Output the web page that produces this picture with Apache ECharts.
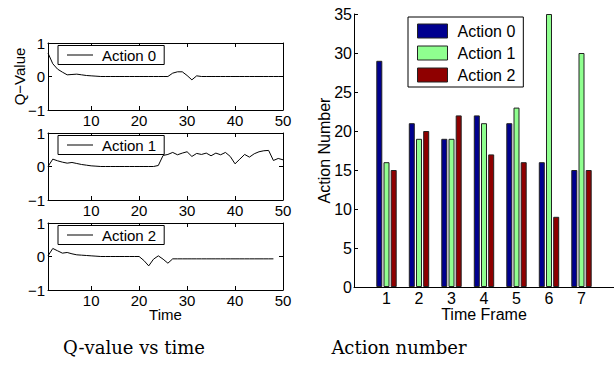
<!DOCTYPE html>
<html>
<head>
<meta charset="utf-8">
<script src="https://cdn.jsdelivr.net/npm/echarts@6.0.0/dist/echarts.min.js"></script>
<style>
  html, body { margin: 0; padding: 0; background: #fff; }
  #main { width: 614px; height: 367px; }
</style>
</head>
<body>
<div id="main"></div>
<script>
// Q-value traces, one value per time step (starting at t = 1)
var qAction0 = [0.70, 0.38, 0.22, 0.13, 0.05, 0.06, 0.07, 0.05, 0.03, 0.02, 0.01,
  0, 0, 0, 0, 0, 0, 0, 0, 0, 0, 0, 0, 0, 0, 0,
  0.10, 0.14, 0.14, 0.03, -0.10, 0.02,
  0, 0, 0, 0, 0, 0, 0, 0, 0, 0, 0, 0, 0, 0, 0, 0, 0, 0];
var qAction1 = [0.0, 0.22, 0.17, 0.13, 0.10, 0.12, 0.09, 0.06, 0.04, 0.02, 0.01,
  0, 0, 0, 0, 0, 0, 0, 0, 0, 0, 0, 0,
  0.03, 0.33, 0.36, 0.42, 0.35, 0.40, 0.44, 0.30, 0.39, 0.36, 0.40, 0.32, 0.40,
  0.35, 0.42, 0.30, 0.08, 0.22, 0.36, 0.28, 0.38, 0.44, 0.47, 0.48, 0.18, 0.24, 0.20];
var qAction2 = [0.02, 0.24, 0.17, 0.10, 0.12, 0.08, 0.05, 0.04, 0.03, 0.02, 0.01,
  0, 0, 0, 0, 0, 0, 0, 0, 0,
  -0.12, -0.28, -0.08, 0.02, -0.08, -0.20, -0.07,
  -0.07, -0.07, -0.07, -0.07, -0.07, -0.07, -0.07, -0.07, -0.07, -0.07, -0.07,
  -0.07, -0.07, -0.07, -0.07, -0.07, -0.07, -0.07, -0.07, -0.07, -0.07];
var qTicks = [10, 20, 30, 40, 50];
var qLabels = ["Action 0", "Action 1", "Action 2"];

// action counts per time frame
var frames = [1, 2, 3, 4, 5, 6, 7];
var count0 = [29, 21, 19, 22, 21, 16, 15];
var count1 = [16, 19, 19, 21, 23, 35, 30];
var count2 = [15, 20, 22, 17, 16, 9, 15];
var barNames = ["Action 0", "Action 1", "Action 2"];
var barColors = ["#00008f", "#8fff8f", "#8f0000"];

var font = "'Liberation Sans', Arial, sans-serif";
var qSeriesData = [qAction0, qAction1, qAction2];
var qTops = [43, 133, 223];

function minus(v) {
  return v < 0 ? "\u2212" + Math.abs(v) : String(v);
}

var grid = [], xAxis = [], yAxis = [], series = [], legend = [];

for (var i = 0; i < 3; i++) {
  grid.push({ left: 48, top: qTops[i], width: 235, height: 67 });
  var axLine = { show: true, onZero: false, lineStyle: { color: "#000", width: 1 } };
  // bottom + top x axes (top one only for the box and ticks)
  xAxis.push({
    type: "value", gridIndex: i, min: 1, max: 50, position: "bottom",
    axisLine: axLine,
    axisTick: { show: true, inside: true, length: 4, customValues: qTicks, lineStyle: { color: "#000" } },
    axisLabel: { customValues: qTicks, fontSize: 15, lineHeight: 14, color: "#000", fontFamily: font, margin: 3 },
    splitLine: { show: false },
    name: i == 2 ? "Time" : "",
    nameLocation: "middle", nameGap: 17, nameMoveOverlap: false,
    nameTextStyle: { fontSize: 15, lineHeight: 14, color: "#000", fontFamily: font, verticalAlign: "top" }
  });
  xAxis.push({
    type: "value", gridIndex: i, min: 1, max: 50, position: "top",
    axisLine: axLine,
    axisTick: { show: true, inside: true, length: 4, customValues: qTicks, lineStyle: { color: "#000" } },
    axisLabel: { show: false },
    splitLine: { show: false }
  });
  yAxis.push({
    type: "value", gridIndex: i, min: -1, max: 1, interval: 1, position: "left",
    axisLine: axLine,
    axisTick: { show: true, inside: true, length: 4, lineStyle: { color: "#000" } },
    axisLabel: { fontSize: 15, color: "#000", fontFamily: font, margin: 3, formatter: minus },
    splitLine: { show: false },
    name: i == 0 ? "Q\u2212Value" : "",
    nameLocation: "middle", nameGap: 21, nameRotate: 90, nameMoveOverlap: false,
    nameTextStyle: { fontSize: 15, color: "#000", fontFamily: font }
  });
  yAxis.push({
    type: "value", gridIndex: i, min: -1, max: 1, interval: 1, position: "right",
    axisLine: axLine,
    axisTick: { show: true, inside: true, length: 4, lineStyle: { color: "#000" } },
    axisLabel: { show: false },
    splitLine: { show: false }
  });
  series.push({
    name: "q" + i,
    type: "line",
    xAxisIndex: 2 * i,
    yAxisIndex: 2 * i,
    data: qSeriesData[i].map(function (v, k) { return [k + 1, v]; }),
    showSymbol: false,
    color: "#000",
    lineStyle: { color: "#000", width: 1 },
    silent: true
  });
  legend.push({
    data: ["q" + i],
    left: 58, top: qTops[i] + 2.5,
    padding: [2, 8, 2, 9],
    backgroundColor: "#fff",
    borderColor: "#000", borderWidth: 1, borderRadius: 0,
    icon: "rect", itemWidth: 26, itemHeight: 1,
    selectedMode: false,
    formatter: function (name) { return qLabels[+name.slice(1)]; },
    textStyle: { fontSize: 15, color: "#000", fontFamily: font, padding: [0, 0, 0, 4] }
  });
}

// bar chart on the right
grid.push({ left: 354, top: 14, width: 260, height: 273 });
xAxis.push({
  type: "value", gridIndex: 3, min: 0, max: 8,
  axisLine: { show: true, onZero: false, lineStyle: { color: "#000" } },
  axisTick: { show: true, inside: true, length: 4, customValues: frames, lineStyle: { color: "#000" } },
  axisLabel: { customValues: frames, fontSize: 16, lineHeight: 15, color: "#000", fontFamily: font, margin: 4 },
  splitLine: { show: false },
  name: "Time Frame", nameLocation: "middle", nameGap: 19, nameMoveOverlap: false,
  nameTextStyle: { fontSize: 16, lineHeight: 16, color: "#000", fontFamily: font, verticalAlign: "top" }
});
yAxis.push({
  type: "value", gridIndex: 3, min: 0, max: 35, interval: 5,
  axisLine: { show: true, lineStyle: { color: "#000" } },
  axisTick: { show: true, inside: true, length: 4, lineStyle: { color: "#000" } },
  axisLabel: { fontSize: 16, color: "#000", fontFamily: font, margin: 2 },
  splitLine: { show: false },
  name: "Action Number", nameLocation: "middle", nameGap: 22, nameRotate: 90, nameMoveOverlap: false,
  nameTextStyle: { fontSize: 16, color: "#000", fontFamily: font }
});
[count0, count1, count2].forEach(function (vals, j) {
  series.push({
    name: barNames[j],
    type: "bar",
    xAxisIndex: 6,
    yAxisIndex: 6,
    data: vals.map(function (v, k) { return [frames[k], v]; }),
    barWidth: 6,
    barGap: "20%",
    itemStyle: { color: barColors[j], borderColor: "#222", borderWidth: 1 },
    silent: true
  });
});
legend.push({
  data: barNames,
  orient: "vertical",
  left: 408, top: 17,
  padding: [6, 8, 4, 9],
  itemGap: 6, itemWidth: 30, itemHeight: 14,
  backgroundColor: "#fff",
  borderColor: "#000", borderWidth: 1,
  icon: "rect",
  selectedMode: false,
  itemStyle: { borderColor: "#222", borderWidth: 1 },
  textStyle: { fontSize: 16, color: "#000", fontFamily: font, padding: [0, 0, 0, 5] }
});

var myChart = echarts.init(document.getElementById("main"), null, { renderer: "svg" });
myChart.setOption({
  animation: false,
  backgroundColor: "#fff",
  grid: grid,
  xAxis: xAxis,
  yAxis: yAxis,
  legend: legend,
  series: series,
  graphic: [
    { type: "text", x: 134, y: 347, style: { text: "Q-value vs time", fontSize: 18, fontFamily: "'DejaVu Serif', serif", fill: "#000", align: "center", verticalAlign: "middle" } },
    { type: "text", x: 399, y: 347, style: { text: "Action number", fontSize: 18, fontFamily: "'DejaVu Serif', serif", fill: "#000", align: "center", verticalAlign: "middle" } }
  ]
});
</script>
</body>
</html>
